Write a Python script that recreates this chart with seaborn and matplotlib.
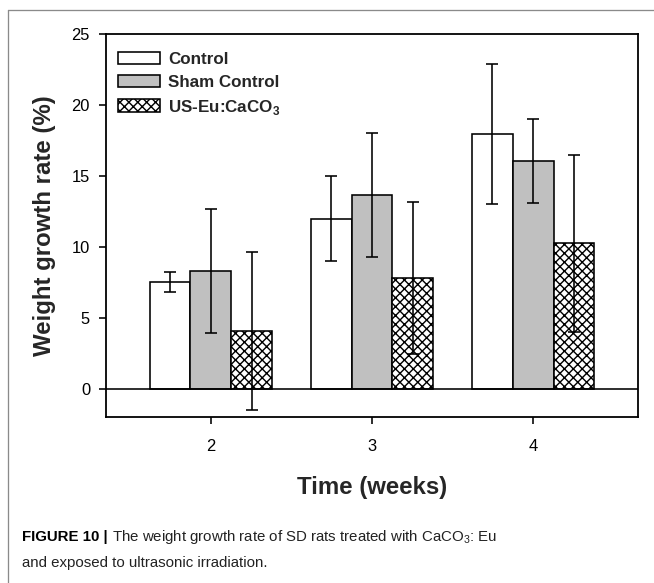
import matplotlib
matplotlib.use("Agg")
import matplotlib.pyplot as plt
import seaborn as sns
import pandas as pd
from matplotlib.lines import Line2D

weeks = ["2", "3", "4"]
groups = ["Control", "Sham Control", "US-Eu:CaCO$_\\mathbf{3}$"]
control = [7.55, 12.0, 17.95]
sham = [8.3, 13.65, 16.05]
us_eu = [4.1, 7.8, 10.25]
control_err = [0.7, 3.0, 4.95]
sham_err = [4.35, 4.35, 2.95]
us_eu_err = [5.55, 5.35, 6.2]
yticks = [0, 5, 10, 15, 20, 25]

DPI = 80
def pt(px):
    return px * 72.0 / DPI

sns.set_theme(style="white")
plt.rcParams['font.family'] = ['Liberation Sans', 'DejaVu Sans']
plt.rcParams['mathtext.fontset'] = 'custom'
plt.rcParams['mathtext.rm'] = 'Liberation Sans'
plt.rcParams['mathtext.bf'] = 'Liberation Sans:bold'
plt.rcParams['hatch.linewidth'] = pt(1.4)
plt.rcParams['hatch.color'] = 'black'

df = pd.DataFrame({
    "week": weeks * 3,
    "group": [groups[0]] * 3 + [groups[1]] * 3 + [groups[2]] * 3,
    "value": control + sham + us_eu,
})
errs = control_err + sham_err + us_eu_err

fig = plt.figure(figsize=(654 / DPI, 583 / DPI), dpi=DPI)
ax = fig.add_axes([106 / 654, 1 - 417 / 583, 532 / 654, 383 / 583])

palette = {groups[0]: "white", groups[1]: "#c0c0c0", groups[2]: "white"}
sns.barplot(data=df, x="week", y="value", hue="group", order=weeks, hue_order=groups,
            palette=palette, width=0.76, errorbar=None, edgecolor="black",
            linewidth=pt(1.6), saturation=1, ax=ax, legend=False)

bar_containers = list(ax.containers)
for gi, cont in enumerate(bar_containers):
    for wi, p in enumerate(cont.patches):
        if gi == 2:
            p.set_hatch("xxx")
        xc = p.get_x() + p.get_width() / 2
        ax.errorbar(xc, p.get_height(), yerr=errs[gi * 3 + wi], color="black",
                    elinewidth=pt(1.6), capsize=pt(6), capthick=pt(1.6), zorder=5)

ax.axhline(0, color="black", lw=pt(1.6), zorder=4)
ax.set_ylim(-1.97, 25)
ax.set_xlim(-0.65, 2.65)
ax.set_yticks(yticks)
ax.set_yticklabels([str(t) for t in yticks])
for s in ax.spines.values():
    s.set_visible(True)
    s.set_color("black")
    s.set_linewidth(pt(1.8))
ax.tick_params(axis="both", direction="out", length=pt(7), width=pt(1.6),
               colors="black", labelsize=pt(16.5), left=True, bottom=True)
ax.tick_params(axis="y", pad=pt(9))
ax.tick_params(axis="x", pad=pt(15))
ax.set_xlabel("Time (weeks)", fontsize=pt(24), fontweight="bold", labelpad=pt(22))
ax.set_ylabel("Weight growth rate (%)", fontsize=pt(24), fontweight="bold", labelpad=pt(16))

leg = ax.legend(bar_containers, groups, loc="upper left",
                bbox_to_anchor=(12 / 532, 1 - 18 / 383), frameon=False,
                prop={"weight": "bold", "size": pt(17)}, handlelength=2.45,
                handleheight=0.75, handletextpad=0.5, labelspacing=0.45,
                borderpad=0, borderaxespad=0)

# figure frame lines
fig.add_artist(Line2D([8 / 654, 1], [1 - 10 / 583, 1 - 10 / 583], color="#8a8a8a", lw=pt(1.3),
                      transform=fig.transFigure))
fig.add_artist(Line2D([8 / 654, 8 / 654], [0, 1 - 10 / 583], color="#8a8a8a", lw=pt(1.3),
                      transform=fig.transFigure))

# caption
fig.canvas.draw()
r = fig.canvas.get_renderer()
cap_size = pt(15)
t1 = fig.text(22 / 654, 1 - 537 / 583, "FIGURE 10 |", fontsize=cap_size, fontweight="bold",
              va="center", ha="left", color="black")
bb = t1.get_window_extent(renderer=r)
fig.text((bb.x1 + 4) / (654), 1 - 537 / 583,
         "The weight growth rate of SD rats treated with CaCO$_3$: Eu",
         fontsize=cap_size, va="center", ha="left", color="#222222")
fig.text(22 / 654, 1 - 563 / 583, "and exposed to ultrasonic irradiation.",
         fontsize=cap_size, va="center", ha="left", color="#222222")

fig.savefig("out.png", dpi=DPI)
